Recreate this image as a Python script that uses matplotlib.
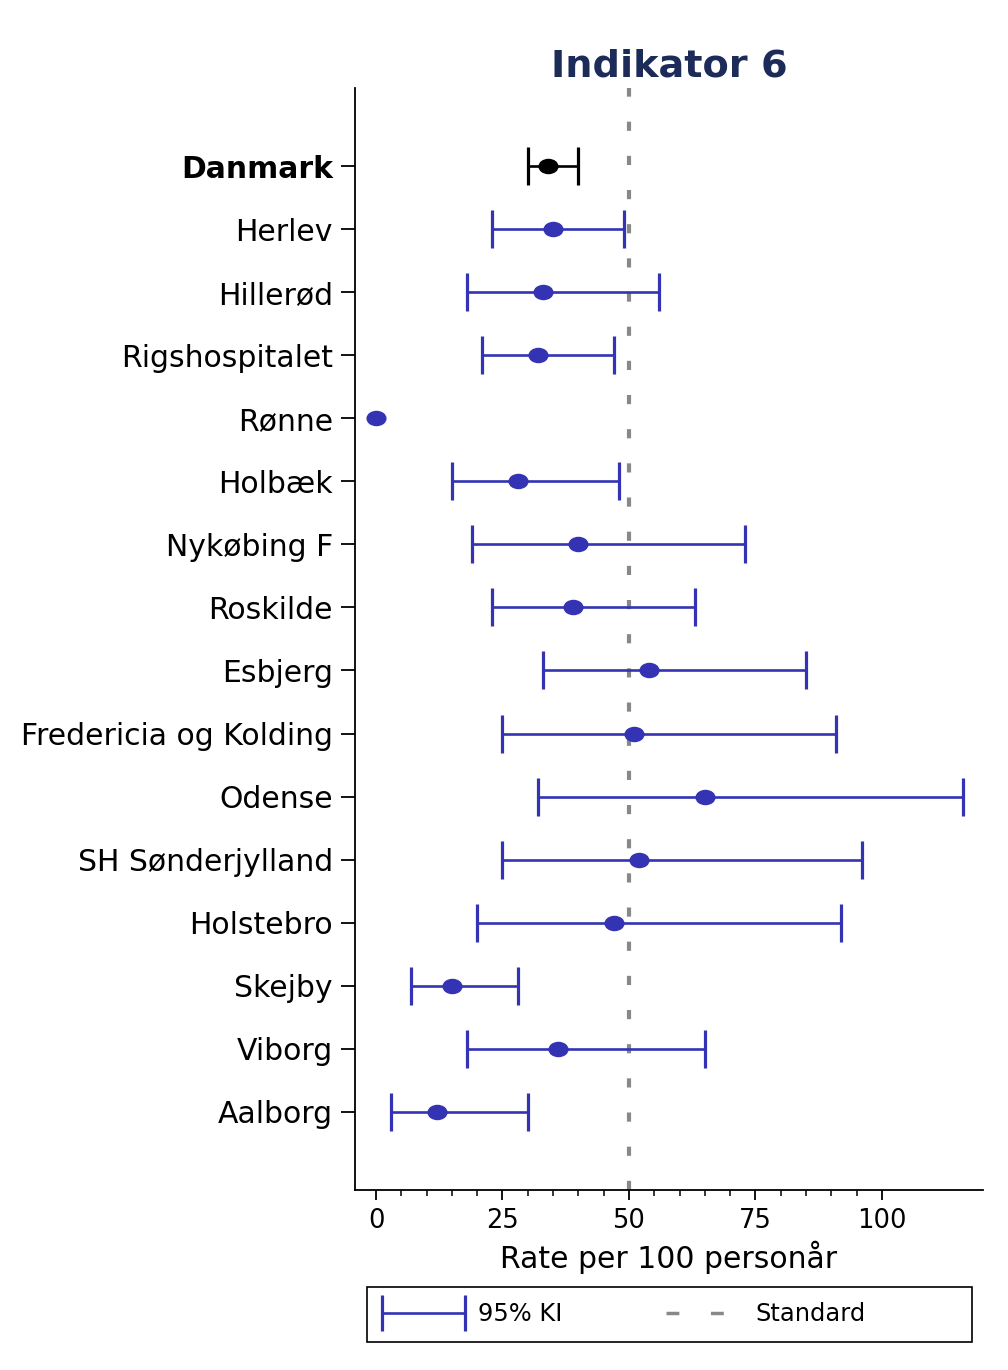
import matplotlib.pyplot as plt
import numpy as np
from matplotlib.path import Path
from matplotlib.lines import Line2D
from matplotlib.patches import Rectangle
from matplotlib.legend_handler import HandlerLine2D

plt.rcParams['font.family'] = ['DejaVu Sans']

units = ["Danmark", "Herlev", "Hillerød", "Rigshospitalet", "Rønne", "Holbæk",
         "Nykøbing F", "Roskilde", "Esbjerg", "Fredericia og Kolding", "Odense",
         "SH Sønderjylland", "Holstebro", "Skejby", "Viborg", "Aalborg"]
rate = [34, 35, 33, 32, 0, 28, 40, 39, 54, 51, 65, 52, 47, 15, 36, 12]
ci_low = [30, 23, 18, 21, np.nan, 15, 19, 23, 33, 25, 32, 25, 20, 7, 18, 3]
ci_high = [40, 49, 56, 47, np.nan, 48, 73, 63, 85, 91, 116, 96, 92, 28, 65, 30]
standard = 50

blue = '#3333b4'
grey = '#888888'

# flattened circle for the point markers
circ = Path.unit_circle()
ellipse = Path(circ.vertices * np.array([1.0, 0.75]), circ.codes)

fig = plt.figure(figsize=(10.08, 13.7), dpi=100)
ax = fig.add_axes([0.3522, 0.1314, 0.6230, 0.8044])

ypos = np.arange(len(units))
rate = np.array(rate, dtype=float)
lo = np.array(ci_low, dtype=float)
hi = np.array(ci_high, dtype=float)

ax.axvline(standard, color=grey, lw=3, dashes=(2.2, 6.0), zorder=1)

for i in ypos:
    c = 'black' if i == 0 else blue
    if not np.isnan(lo[i]):
        ax.errorbar(rate[i], i, xerr=[[rate[i] - lo[i]], [hi[i] - rate[i]]],
                    fmt='none', ecolor=c, elinewidth=1.9, capsize=13.5,
                    capthick=2.3, zorder=2)
    ax.plot(rate[i], i, marker=ellipse, color=c, markersize=13.5,
            linestyle='none', zorder=3)

ax.set_ylim(len(units) - 1 + 1.24, -1.24)
ax.set_xlim(-4.15, 120.0)
ax.set_yticks(ypos)
ax.set_yticklabels(units, fontsize=21.5)
ax.get_yticklabels()[0].set_fontweight('bold')
ax.set_xticks([0, 25, 50, 75, 100])
ax.set_xticks(np.arange(0, 101, 5), minor=True)
ax.tick_params(axis='x', labelsize=18.5, length=7, width=1.3, pad=6)
ax.tick_params(axis='x', which='minor', length=4.5, width=1.1)
ax.tick_params(axis='y', length=10, width=1.3, pad=6)
for s in ['top', 'right']:
    ax.spines[s].set_visible(False)
for s in ['left', 'bottom']:
    ax.spines[s].set_linewidth(1.3)

ax.set_xlabel("Rate per 100 personår", fontsize=21.5, labelpad=5)
ax.set_title("Indikator 6", fontsize=27.5, fontweight='bold', color='#1c2b58', pad=8)

# legend: frame drawn separately so it can span the full width
fig.patches.append(Rectangle((367 / 1008, 1 - 1342 / 1370), 605 / 1008, 55 / 1370,
                             transform=fig.transFigure, fill=False,
                             edgecolor='black', lw=1.2))
h_ci = Line2D([], [], color=blue, lw=1.9, marker='|', markersize=26, mew=2.3)
h_std = Line2D([], [], color=grey, lw=2.5, dashes=(3.7, 9.1))
fig.legend([h_ci, h_std], ["95% KI", "Standard"], ncol=2, numpoints=2,
           loc='center left', bbox_to_anchor=(382 / 1008, 1 - 1314 / 1370),
           borderaxespad=0, borderpad=0, fontsize=17.4, handlelength=3.43,
           handletextpad=0.54, columnspacing=4.0, frameon=False,
           handler_map={h_ci: HandlerLine2D(marker_pad=0)})

fig.savefig('out.png', dpi=100)
